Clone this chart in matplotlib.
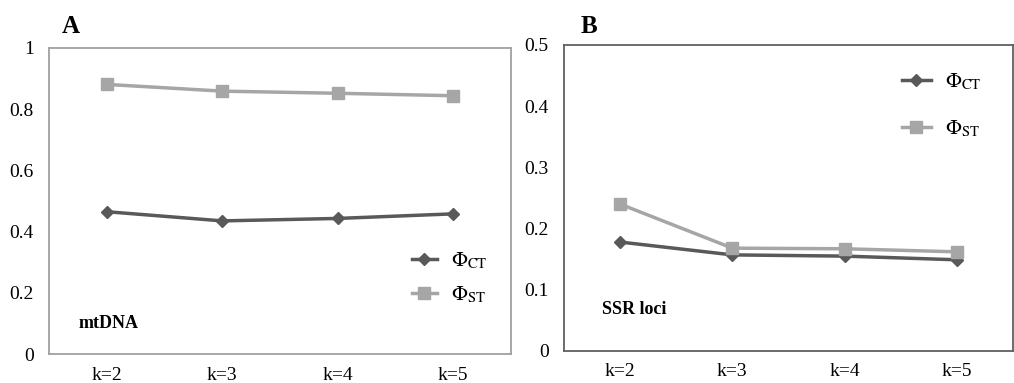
import numpy as np
import matplotlib
matplotlib.use('Agg')
import matplotlib.pyplot as plt
from matplotlib.ticker import FuncFormatter

# data
k_labels = ['k=2', 'k=3', 'k=4', 'k=5']
mtdna_ct = [0.465, 0.435, 0.443, 0.458]
mtdna_st = [0.881, 0.859, 0.852, 0.844]
ssr_ct = [0.178, 0.157, 0.155, 0.149]
ssr_st = [0.240, 0.168, 0.167, 0.162]

plt.rcParams['font.family'] = 'Liberation Serif'
plt.rcParams['mathtext.fontset'] = 'stix'

ct_color = '#595959'
st_color = '#a6a6a6'

fig = plt.figure(figsize=(10.14, 3.83), dpi=100)
axA = fig.add_axes([0.0483, 0.0757, 0.4556, 0.799])
axB = fig.add_axes([0.5562, 0.0836, 0.4428, 0.799])

x = np.arange(len(k_labels))


def style(ax, ymax, step, border):
    ax.set_xlim(-0.5, len(k_labels) - 0.5)
    ax.set_ylim(0, ymax)
    ax.set_yticks(np.arange(0, ymax + step / 2, step))
    ax.yaxis.set_major_formatter(FuncFormatter(lambda v, p: '%g' % round(v, 2)))
    ax.set_xticks(x)
    ax.set_xticklabels(k_labels)
    ax.tick_params(length=0, labelsize=14, colors='black')
    ax.tick_params(axis='y', pad=11)
    ax.tick_params(axis='x', pad=9)
    for s in ax.spines.values():
        s.set_color(border)
        s.set_linewidth(1.3)


# panel A
axA.plot(x, mtdna_ct, color=ct_color, lw=2.5, marker='D', ms=6, label=r'$\Phi_{\mathrm{CT}}$')
axA.plot(x, mtdna_st, color=st_color, lw=2.5, marker='s', ms=9, label=r'$\Phi_{\mathrm{ST}}$')
style(axA, 1.0, 0.2, '#a0a0a0')
axA.text(0.065, 0.085, 'mtDNA', transform=axA.transAxes, fontsize=13, fontweight='bold')
axA.legend(loc='upper left', bbox_to_anchor=(0.745, 0.40), frameon=False, fontsize=15,
           handlelength=1.2, labelspacing=0.65, handletextpad=0.7)
fig.text(0.061, 0.915, 'A', fontsize=18, fontweight='bold')

# panel B
axB.plot(x, ssr_ct, color=ct_color, lw=2.5, marker='D', ms=6, label=r'$\Phi_{\mathrm{CT}}$')
axB.plot(x, ssr_st, color=st_color, lw=2.5, marker='s', ms=9, label=r'$\Phi_{\mathrm{ST}}$')
style(axB, 0.5, 0.1, '#606060')
axB.text(0.085, 0.12, 'SSR loci', transform=axB.transAxes, fontsize=13, fontweight='bold')
axB.legend(loc='upper left', bbox_to_anchor=(0.71, 0.975), frameon=False, fontsize=15,
           handlelength=1.4, labelspacing=1.25, handletextpad=0.7)
fig.text(0.573, 0.915, 'B', fontsize=18, fontweight='bold')

fig.savefig('out.png', dpi=100)
